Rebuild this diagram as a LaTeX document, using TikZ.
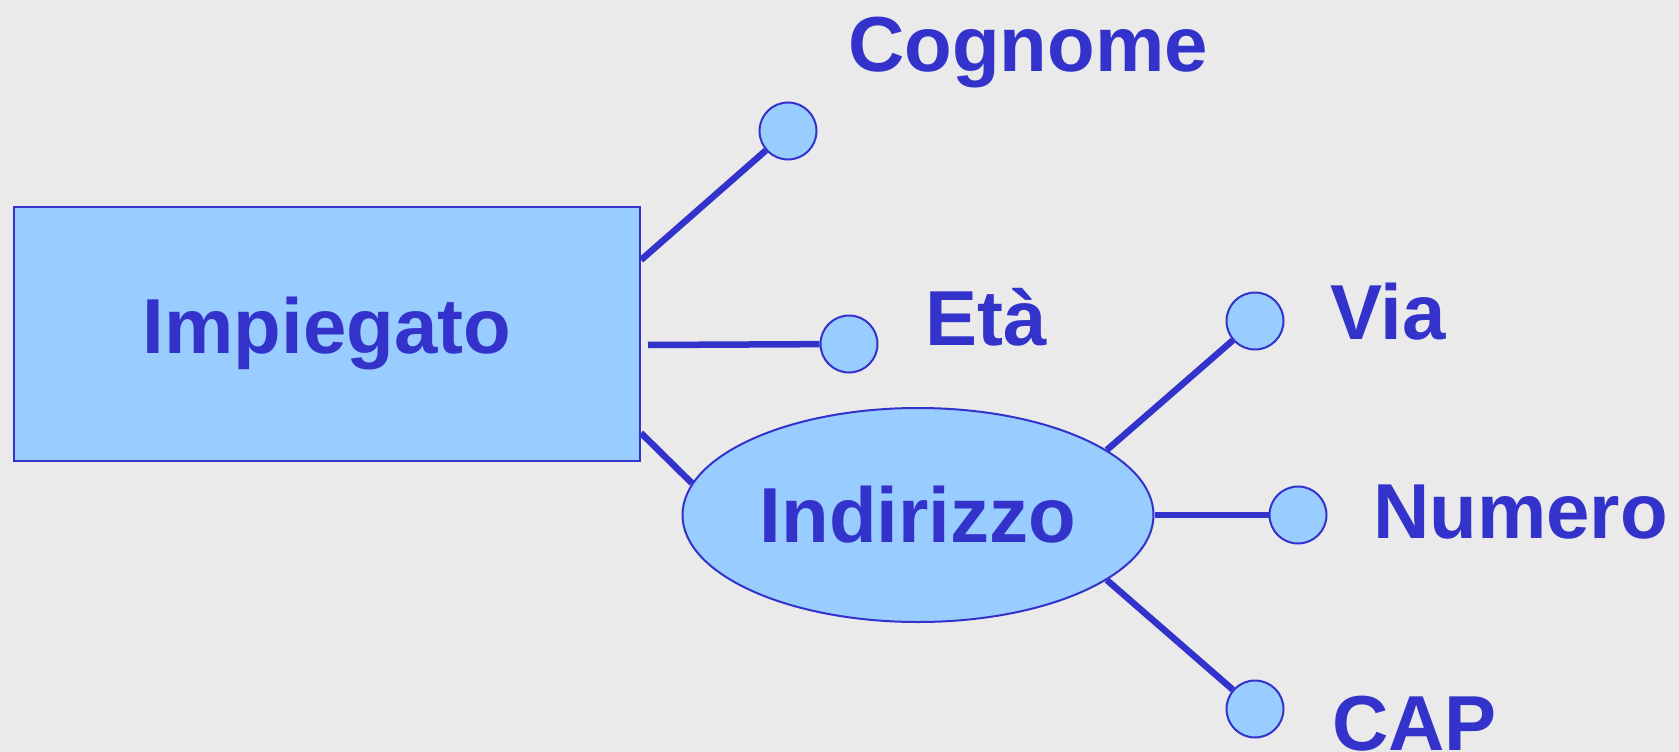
\documentclass[tikz,border=0pt]{standalone}
\usepackage{fontspec}
\setmainfont{Liberation Sans}
\usetikzlibrary{positioning}
\usetikzlibrary{calc}
\usetikzlibrary{shapes.geometric}
\definecolor{erblue}{RGB}{51, 51, 204}
\definecolor{erfill}{RGB}{153, 204, 255}
\definecolor{erback}{RGB}{234, 234, 234}
\newcommand\erfont{\fontsize{78}{94}\selectfont\bfseries}

\begin{document}
\begin{tikzpicture}[
    x=1pt, y=-1pt,
    % node styles
    ent/.style = {
      rectangle,
      draw=erblue,
      fill=erfill,
      line width=2pt,
      minimum width=626pt,
      minimum height=254pt,
      inner sep=0pt,
      font=\erfont,
      text=erblue
    },
    compattr/.style = {
      ellipse,
      draw=erblue,
      fill=erfill,
      line width=2pt,
      minimum width=471pt,
      minimum height=214pt,
      inner sep=0pt,
      font=\erfont,
      text=erblue
    },
    attr/.style = {
      circle,
      draw=erblue,
      fill=erfill,
      line width=2pt,
      minimum size=57pt,
      inner sep=0pt
    },
    lbl/.style = {
      anchor=base west,
      inner sep=0pt,
      font=\erfont,
      text=erblue
    },
    % connector style
    link/.style = {line width=6.5pt, draw=erblue}
  ]

  \fill[erback] (0,0) rectangle (1679,752);
  \useasboundingbox (0,0) rectangle (1679,752);

  % --- Nodes
  \node[ent] (imp) at (327,334) {Impiegato};

  \node[compattr] (ind) at (918,515) {Indirizzo};

  \node[attr] (cogn) at (788,131) {};
  \node[attr] (eta)  at (849,344) {};
  \node[attr] (via)  at (1255,321) {};
  \node[attr] (num)  at (1298,515) {};
  \node[attr] (cap)  at (1255,709) {};

  % --- Labels
  \node[lbl] (lcogn) at (848,71)  {Cognome};
  \node[lbl] (leta)  at (925,345) {Età};
  \node[lbl] (lvia)  at (1330,339) {Via};
  \node[lbl] (lnum)  at (1373,538) {Numero};
  \node[lbl] (lcap)  at (1332,750) {CAP};

  % --- Links
  \coordinate (cognStart) at ($(imp.east)+(0,-74)$);
  \coordinate (etaStart)  at ($(imp.east)+(7,11)$);
  \coordinate (indStart)  at ($(imp.east)+(0,99)$);
  \draw[link] (cognStart) -- (cogn);
  \draw[link] (etaStart) -- (eta);
  \draw[link] (indStart) -- (ind.172);
  \draw[link] (ind.19) -- (via);
  \draw[link] (ind.east) -- (num);
  \draw[link] (ind.-19) -- (cap);

\end{tikzpicture}
\end{document}
